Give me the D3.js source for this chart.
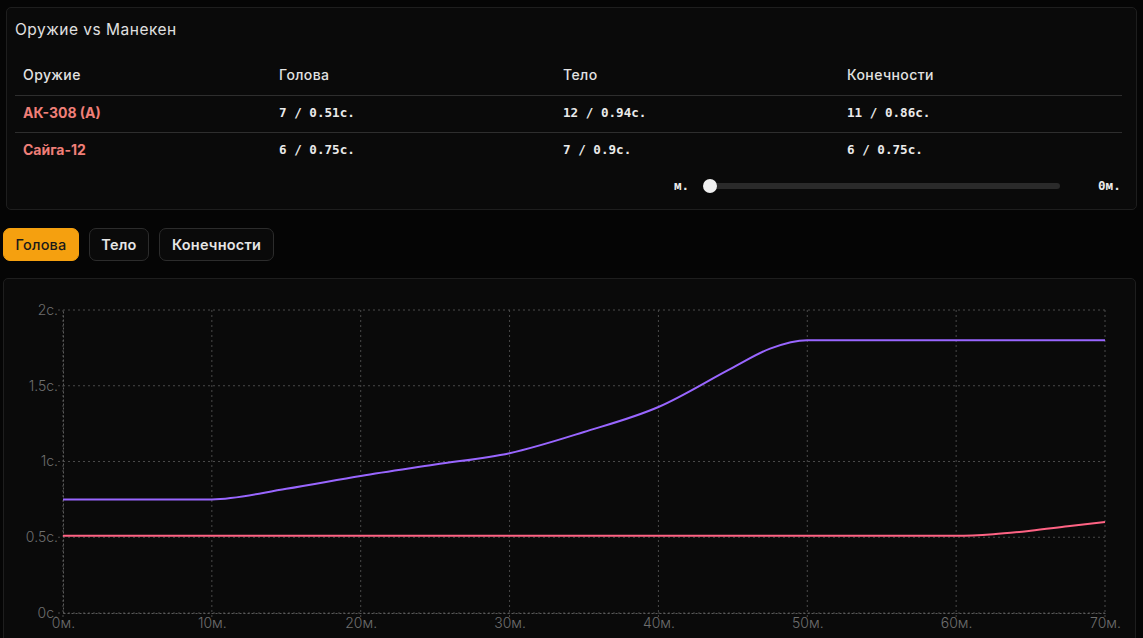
<!DOCTYPE html>
<html>
<head>
<meta charset="utf-8">
<script src="https://cdn.jsdelivr.net/npm/d3@7"></script>
<style>
body{margin:0;background:#050505;width:1143px;height:638px;overflow:hidden;font-family:Inter,"Noto Sans",sans-serif;color:#e2e2e2;position:relative}
.card{position:absolute;background:#0a0a0a;border:1px solid #1e1e1e;border-radius:5px;box-sizing:border-box}
.abs{position:absolute;white-space:nowrap}
.mono{font-family:"DejaVu Sans Mono",monospace;font-weight:bold;font-size:12.6px;color:#eaeaea}
.btn{position:absolute;top:228px;height:33px;box-sizing:border-box;border:1px solid #2c2c2c;border-radius:7px;background:#0a0a0a;color:#e6e6e6;font-weight:600;font-size:14.5px;letter-spacing:0.2px;display:flex;align-items:center;justify-content:center}
.btn.on{background:#f5a00f;border-color:#f5a00f;color:#1a1a1a;font-weight:500}
svg{position:absolute;left:0;top:0}
</style>
</head>
<body>
<script>
var headers=["Оружие","Голова","Тело","Конечности"];
var weapons=["АК-308 (А)","Сайга-12"];
var cells=[["7 / 0.51с.","12 / 0.94с.","11 / 0.86с."],["6 / 0.75с.","7 / 0.9с.","6 / 0.75с."]];
var tabs=["Голова","Тело","Конечности"];
var distances=[0,5,10,15,20,25,30,35,40,45,47.5,50,55,60,62.5,65,67.5,70];
var akHead=[0.51,0.51,0.51,0.51,0.51,0.51,0.51,0.51,0.51,0.51,0.51,0.51,0.51,0.51,0.52,0.543,0.572,0.6];
var saigaHead=[0.75,0.75,0.75,0.82,0.905,0.98,1.055,1.195,1.36,1.62,1.745,1.8,1.8,1.8,1.8,1.8,1.8,1.8];
var yTicks=[0,0.5,1,1.5,2];
var xTicks=[0,10,20,30,40,50,60,70];

var body=d3.select("body");

// top card with table
body.append("div").attr("class","card").style("left","6px").style("top","7px").style("width","1131px").style("height","203px");
body.append("div").attr("class","abs").style("left","15px").style("top","20px").style("font-size","15.5px").style("letter-spacing","0.5px").style("color","#e0e0e0").text("Оружие vs Манекен");

var colX=[23,279,563,847];
headers.forEach(function(h,i){
  body.append("div").attr("class","abs").style("left",colX[i]+"px").style("top","66px").style("font-size","14px").style("letter-spacing","0.4px").style("font-weight","500").text(h);
});
[95,132].forEach(function(y){
  body.append("div").attr("class","abs").style("left","15px").style("top",y+"px").style("width","1107px").style("height","1px").style("background","#2e2e2e");
});
weapons.forEach(function(w,r){
  var top=104+r*37;
  body.append("div").attr("class","abs").style("left","23px").style("top",top+"px").style("font-size","14px").style("font-weight","700").style("color","#f07f78").text(w);
  cells[r].forEach(function(c,i){
    body.append("div").attr("class","abs mono").style("left",colX[i+1]+"px").style("top",(top+1)+"px").text(c);
  });
});

// slider
body.append("div").attr("class","abs mono").style("left","674px").style("top","178px").text("м.");
body.append("div").attr("class","abs").style("left","705px").style("top","183px").style("width","355px").style("height","6px").style("border-radius","3px").style("background","#2a2a2a");
body.append("div").attr("class","abs").style("left","703px").style("top","179px").style("width","14px").style("height","14px").style("border-radius","7px").style("background","#f0f0f0");
body.append("div").attr("class","abs mono").style("left","1098px").style("top","178px").text("0м.");

// tabs
var tabX=[3,89,159],tabW=[76,60,115];
tabs.forEach(function(t,i){
  body.append("div").attr("class","btn"+(i==0?" on":"")).style("left",tabX[i]+"px").style("width",tabW[i]+"px").text(t);
});

// chart card
body.append("div").attr("class","card").style("left","3px").style("top","278px").style("width","1133px").style("height","380px");

var svg=body.append("svg").attr("width",1143).attr("height",638);

var x=d3.scaleLinear().domain([0,70]).range([63,1105]);
var y=d3.scaleLinear().domain([0,2]).range([613,310]);

var grid=svg.append("g").attr("stroke","#4a4a4a").attr("stroke-dasharray","2,3");
grid.selectAll(".gx").data(xTicks).enter().append("line")
  .attr("x1",function(d){return x(d);}).attr("x2",function(d){return x(d);})
  .attr("y1",y(2)).attr("y2",y(0)+5);
grid.selectAll(".gy").data(yTicks).enter().append("line")
  .attr("x1",x(0)-5).attr("x2",x(70))
  .attr("y1",function(d){return y(d);}).attr("y2",function(d){return y(d);});

var xAxis=svg.append("g").attr("transform","translate(0,"+y(0)+")")
  .call(d3.axisBottom(x).tickValues(xTicks).tickSize(0).tickPadding(8).tickFormat(function(d){return d+"м.";}));
var yAxis=svg.append("g").attr("transform","translate("+x(0)+",0)")
  .call(d3.axisLeft(y).tickValues(yTicks).tickSize(0).tickPadding(8).tickFormat(function(d){return d+"с.";}));
[xAxis,yAxis].forEach(function(a){
  a.select(".domain").attr("stroke","#5a5a5a").attr("stroke-dasharray","2,2");
  a.selectAll("text").attr("fill","#6e6e6e").attr("font-size","14px").attr("font-weight","300").attr("font-family","Inter,sans-serif");
});
xAxis.selectAll("text").attr("dy","0.5em");
yAxis.selectAll("text").attr("dx","3px");

var line=d3.line().curve(d3.curveMonotoneX)
  .x(function(d,i){return x(distances[i]);})
  .y(function(d){return y(d);});

svg.append("path").datum(akHead).attr("d",line).attr("fill","none").attr("stroke","#ff6384").attr("stroke-width",2);
svg.append("path").datum(saigaHead).attr("d",line).attr("fill","none").attr("stroke","#9966ff").attr("stroke-width",2);
</script>
</body>
</html>
